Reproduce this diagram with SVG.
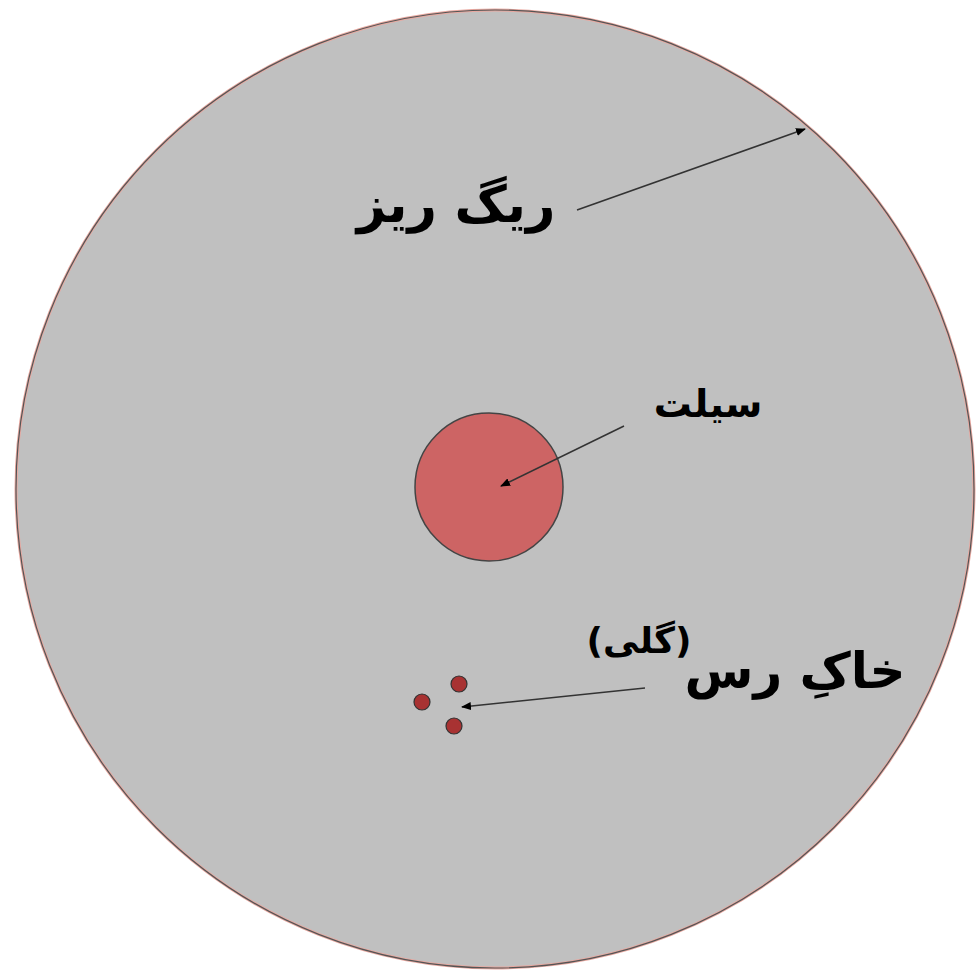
<svg xmlns="http://www.w3.org/2000/svg" width="977" height="972" viewBox="0 0 977 972">
<style>
.lbl{font-family:"DejaVu Sans",sans-serif;font-weight:bold;fill:#000;text-anchor:middle;}
.conn{stroke:#333;stroke-width:1.6;fill:none;marker-end:url(#ah);}
</style>
<defs>
<marker id="ah" markerWidth="10" markerHeight="8" refX="9" refY="4" orient="auto" markerUnits="userSpaceOnUse">
<path d="M0,0 L10,4 L0,8 Z" fill="#000"/>
</marker>
</defs>
<rect width="977" height="972" fill="#fff"/>
<g id="sand">
<circle cx="495" cy="489" r="479" fill="#c0c0c0" stroke="#e8a8a0" stroke-width="3"/>
<circle cx="495" cy="489" r="479" fill="none" stroke="#555" stroke-width="1.2"/>
<text class="lbl" x="456" y="222" font-size="51" direction="rtl">ریگ ریز</text>
</g>
<g id="silt">
<circle cx="489" cy="487" r="74" fill="#cd6464" stroke="#444" stroke-width="1.5"/>
<text class="lbl" x="708" y="417" font-size="38" direction="rtl">سیلت</text>
</g>
<g id="clay">
<circle cx="422" cy="702" r="8" fill="#a83232" stroke="#333" stroke-width="1.2"/>
<circle cx="459" cy="684" r="8" fill="#a83232" stroke="#333" stroke-width="1.2"/>
<circle cx="454" cy="726" r="8" fill="#a83232" stroke="#333" stroke-width="1.2"/>
<text class="lbl" x="795" y="688" font-size="50" direction="rtl">خاکِ رس</text>
<text class="lbl" x="639" y="653" font-size="36" direction="rtl">(گلی)</text>
</g>
<g id="connectors">
<line class="conn" x1="577" y1="210" x2="805" y2="129"/>
<line class="conn" x1="624" y1="426" x2="501" y2="486"/>
<line class="conn" x1="645" y1="688" x2="462" y2="707"/>
</g>
</svg>
